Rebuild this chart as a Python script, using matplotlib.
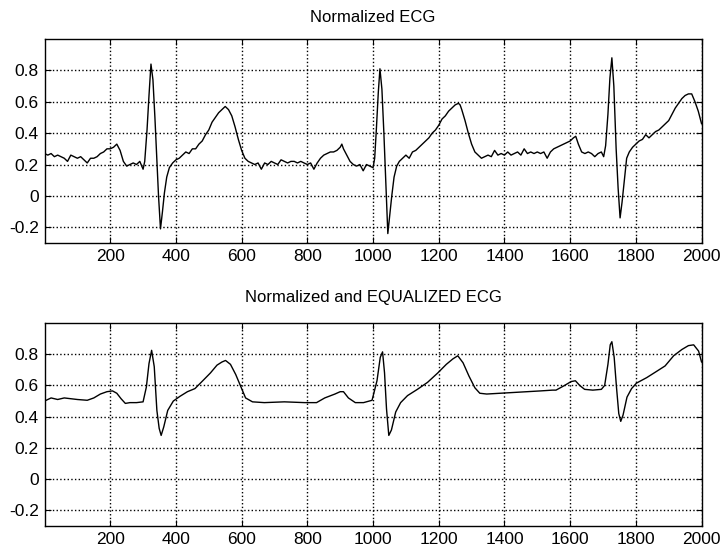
#!/usr/bin/python

#Importing modules:
import matplotlib
matplotlib.use("Agg")
import matplotlib.pyplot as plt

plt.rcParams['font.family'] = ['Liberation Sans', 'DejaVu Sans']

#Normalized ECG (raw, with noise):
ecgX = [0, 10, 20, 30, 40, 50, 60, 70, 80, 90, 100, 110, 120, 130, 140, 150, 160, 170, 180, 190,
        200, 210, 220, 230, 240, 250, 260, 270, 280, 290, 300,
        305, 312, 318, 324, 330, 336, 342, 347, 353, 359, 365, 372, 380, 390,
        400, 410, 420, 430, 440, 450, 460, 470, 480, 490, 500, 510, 520, 530, 540, 550, 560, 570,
        580, 590, 600, 610, 620, 630, 640, 650, 660, 670, 680, 690, 700, 710, 720, 730, 740, 750,
        760, 770, 780, 790, 800, 810, 820, 830, 840, 850, 860, 870, 880, 890, 900, 905, 910, 920,
        930, 940, 950, 960, 970, 980, 990, 1000,
        1005, 1010, 1016, 1021, 1027, 1033, 1039, 1045, 1051, 1057, 1064, 1072, 1080, 1090,
        1100, 1110, 1120, 1130, 1140, 1150, 1160, 1170, 1180, 1190, 1200, 1210, 1220, 1230, 1240,
        1250, 1260, 1265, 1270, 1280, 1290, 1300, 1310, 1320, 1330, 1340, 1350, 1360, 1370, 1380,
        1390, 1400, 1410, 1420, 1430, 1440, 1450, 1460, 1470, 1480, 1490, 1500, 1510, 1520, 1530,
        1540, 1550, 1560, 1570, 1580, 1590, 1600, 1610, 1617, 1625, 1635, 1645, 1655, 1665, 1675,
        1685, 1695, 1702,
        1708, 1715, 1721, 1727, 1733, 1740, 1746, 1752, 1758, 1765, 1772, 1780, 1790,
        1800, 1810, 1820, 1830, 1840, 1850, 1860, 1870, 1880, 1890, 1900, 1910, 1920, 1930, 1940,
        1950, 1960, 1970, 1980, 1990, 2000]
ecgY = [0.27, 0.26, 0.27, 0.25, 0.26, 0.25, 0.24, 0.22, 0.26, 0.25, 0.24, 0.25, 0.23, 0.21, 0.24,
        0.24, 0.25, 0.27, 0.28, 0.30, 0.30, 0.31, 0.33, 0.29, 0.22, 0.19, 0.20, 0.21, 0.20, 0.22, 0.17,
        0.22, 0.42, 0.64, 0.84, 0.74, 0.50, 0.22, 0.00, -0.21, -0.10, 0.02, 0.12, 0.18, 0.21,
        0.23, 0.24, 0.26, 0.28, 0.27, 0.30, 0.30, 0.33, 0.35, 0.39, 0.42, 0.47, 0.50, 0.53, 0.55, 0.57,
        0.55, 0.51, 0.44, 0.36, 0.29, 0.24, 0.22, 0.21, 0.20, 0.21, 0.17, 0.21, 0.20, 0.22, 0.21, 0.20,
        0.23, 0.22, 0.21, 0.22, 0.22, 0.21, 0.22, 0.21, 0.20, 0.21, 0.17, 0.21, 0.24, 0.26, 0.27, 0.28,
        0.28, 0.29, 0.31, 0.33, 0.30, 0.26, 0.22, 0.20, 0.19, 0.20, 0.16, 0.20, 0.19, 0.18,
        0.24, 0.42, 0.66, 0.81, 0.68, 0.40, 0.08, -0.24, -0.12, 0.00, 0.12, 0.19, 0.22, 0.24,
        0.26, 0.24, 0.28, 0.29, 0.31, 0.33, 0.35, 0.37, 0.40, 0.42, 0.45, 0.49, 0.51, 0.54, 0.56,
        0.58, 0.59, 0.58, 0.55, 0.48, 0.40, 0.33, 0.28, 0.26, 0.24, 0.25, 0.26, 0.25, 0.29, 0.26,
        0.27, 0.26, 0.28, 0.26, 0.27, 0.28, 0.26, 0.30, 0.27, 0.28, 0.27, 0.28, 0.27, 0.28, 0.24,
        0.28, 0.30, 0.31, 0.32, 0.33, 0.34, 0.35, 0.37, 0.38, 0.33, 0.28, 0.27, 0.28, 0.27, 0.25,
        0.27, 0.28, 0.25,
        0.32, 0.52, 0.75, 0.88, 0.70, 0.30, 0.05, -0.14, -0.04, 0.10, 0.24, 0.28, 0.31,
        0.33, 0.35, 0.36, 0.39, 0.37, 0.39, 0.41, 0.42, 0.44, 0.46, 0.48, 0.52, 0.56, 0.59, 0.62,
        0.64, 0.65, 0.65, 0.60, 0.54, 0.46]

#Normalized and equalized ECG (smooth):
eqX = [0, 20, 40, 60, 80, 100, 130, 150, 170, 190, 207, 220, 233, 246, 260, 280, 300, 310, 318, 326,
       334, 342, 349, 355, 363, 375, 392, 412, 435, 458, 484, 505, 525, 540, 551, 566, 582, 597, 612,
       633, 669, 730, 792, 828, 853, 884, 900, 910, 925, 946, 971, 997, 1012, 1022, 1029, 1035, 1041,
       1048, 1056, 1069, 1084, 1105, 1135, 1166, 1197, 1223, 1243, 1258, 1274, 1292, 1310, 1325,
       1346, 1387, 1428, 1469, 1510, 1546, 1557, 1583, 1603, 1616, 1629, 1644, 1669, 1695, 1705,
       1715, 1722, 1727, 1734, 1741, 1748, 1754, 1761, 1773, 1787, 1802, 1833, 1863, 1889, 1915,
       1940, 1960, 1976, 1991, 2000]
eqY = [0.50, 0.52, 0.51, 0.52, 0.515, 0.51, 0.505, 0.52, 0.545, 0.56, 0.565, 0.55, 0.515, 0.485,
       0.49, 0.49, 0.495, 0.59, 0.74, 0.825, 0.72, 0.44, 0.325, 0.28, 0.335, 0.44, 0.50, 0.53, 0.56,
       0.58, 0.635, 0.68, 0.73, 0.75, 0.76, 0.735, 0.67, 0.595, 0.52, 0.495, 0.49, 0.495, 0.49, 0.49,
       0.52, 0.545, 0.56, 0.56, 0.52, 0.49, 0.49, 0.505, 0.63, 0.78, 0.815, 0.68, 0.45, 0.28, 0.315,
       0.43, 0.49, 0.535, 0.575, 0.62, 0.68, 0.735, 0.77, 0.79, 0.745, 0.66, 0.585, 0.55, 0.545,
       0.55, 0.555, 0.56, 0.565, 0.57, 0.57, 0.60, 0.625, 0.63, 0.60, 0.575, 0.57, 0.575, 0.60,
       0.735, 0.86, 0.88, 0.78, 0.59, 0.42, 0.37, 0.41, 0.525, 0.58, 0.615, 0.65, 0.69, 0.725,
       0.79, 0.83, 0.855, 0.86, 0.82, 0.75]

#Ticks of both plots:
xTicks = [200, 400, 600, 800, 1000, 1200, 1400, 1600, 1800, 2000]
yTicks = [-0.2, 0, 0.2, 0.4, 0.6, 0.8]
yLabels = ['-0.2', '0', '0.2', '0.4', '0.6', '0.8']
titles = ['Normalized ECG', 'Normalized and EQUALIZED ECG']

fig = plt.figure(figsize=(7.24, 5.49), dpi=100)
ax1 = fig.add_axes([0.0615, 0.5574, 0.9075, 0.3716])
ax2 = fig.add_axes([0.0615, 0.0419, 0.9075, 0.3698])

for ax, x, y, title, tpad in [(ax1, ecgX, ecgY, titles[0], 12), (ax2, eqX, eqY, titles[1], 15)]:
    ax.plot(x, y, color='k', linewidth=1.0)
    ax.set_xlim(0, 2000)
    ax.set_ylim(-0.3, 1.0)
    ax.set_xticks(xTicks)
    ax.set_xticklabels([str(t) for t in xTicks])
    ax.set_yticks(yTicks)
    ax.set_yticklabels(yLabels)
    ax.grid(True, color='k', linestyle=':', linewidth=1.0)
    ax.tick_params(direction='in', top=True, right=True, length=4, labelsize=12.5, pad=4)
    for s in ax.spines.values():
        s.set_linewidth(1.0)
    ax.set_title(title, fontsize=12, pad=tpad)

#Saving the plot:
plt.savefig('out.png', dpi=100)
